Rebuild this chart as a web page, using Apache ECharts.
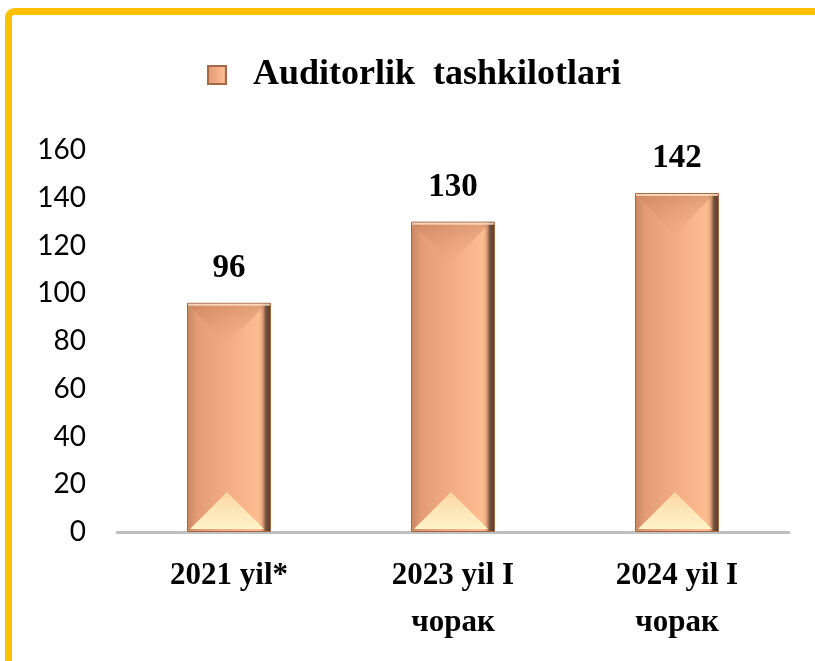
<!DOCTYPE html>
<html>
<head>
<meta charset="utf-8">
<script src="https://cdn.jsdelivr.net/npm/echarts@6/dist/echarts.min.js"></script>
<style>
  html, body { margin: 0; padding: 0; background: #fff; }
  #box1 { width: 815px; height: 661px; }
</style>
</head>
<body>
<div id="box1"></div>
<script>
// chart data
let seriesName = 'Auditorlik  tashkilotlari';
let categories = ['2021 yil*', '2023 yil I\nчорак', '2024 yil I\nчорак'];
let values = [96, 130, 142];
let yMin = 0, yMax = 160, yStep = 20;

let box1 = document.querySelector('#box1');
let myChart1 = echarts.init(box1);

let barFill = new echarts.graphic.LinearGradient(0, 0, 1, 0, [
    { offset: 0, color: '#c58660' },
    { offset: 0.12, color: '#e49c74' },
    { offset: 0.5, color: '#f3ad84' },
    { offset: 0.86, color: '#fcbd92' },
    { offset: 0.9, color: '#e0a078' },
    { offset: 0.94, color: '#7a5038' },
    { offset: 1, color: '#5a3a28' }
]);

let halfW = 42;

function bevel(params, api) {
    let top = api.coord([api.value(0), api.value(1)]);
    let base = api.coord([api.value(0), 0]);
    let cx = top[0];
    let t = top[1], b = base[1];
    return {
        type: 'group',
        children: [
            {
                type: 'polygon',
                shape: { points: [[cx - halfW + 2, t + 2], [cx + halfW - 6, t + 2], [cx - 2, t + 42]] },
                style: {
                    fill: new echarts.graphic.LinearGradient(0, 0, 0, 1, [
                        { offset: 0, color: 'rgba(190,120,85,0.45)' },
                        { offset: 1, color: 'rgba(230,160,120,0.1)' }
                    ])
                }
            },
            {
                type: 'polygon',
                shape: { points: [[cx - halfW + 3, b - 3], [cx + halfW - 7, b - 3], [cx - 2, b - 40]] },
                style: {
                    fill: new echarts.graphic.LinearGradient(0, 0, 0, 1, [
                        { offset: 0, color: '#fbd6a2' },
                        { offset: 1, color: '#fff4c8' }
                    ])
                }
            },
            {
                type: 'rect',
                shape: { x: cx - halfW + 1, y: t + 1, width: 2 * halfW - 2, height: 2 },
                style: { fill: 'rgba(255,225,200,0.8)' }
            }
        ]
    };
}

let option1 = {
    animation: false,
    backgroundColor: '#fff',
    graphic: [
        {
            type: 'rect',
            shape: { x: 8.5, y: 11.5, width: 1000, height: 1000, r: 6 },
            style: { fill: 'none', stroke: '#ffc000', lineWidth: 7 },
            z: 100
        }
    ],
    legend: {
        left: 202,
        top: 52,
        itemWidth: 18,
        itemHeight: 18,
        icon: 'rect',
        data: [seriesName],
        textStyle: {
            fontFamily: 'Liberation Serif',
            fontWeight: 'bold',
            fontSize: 36,
            color: '#000',
            padding: [0, 0, 0, 22]
        }
    },
    grid: {
        left: 117,
        right: 26,
        top: 150,
        bottom: 129
    },
    xAxis: {
        type: 'category',
        data: categories,
        axisLine: { lineStyle: { color: '#bfbfbf', width: 3 } },
        axisTick: { show: false },
        axisLabel: {
            margin: 20,
            fontFamily: 'Liberation Serif',
            fontWeight: 'bold',
            fontSize: 31,
            lineHeight: 47,
            color: '#000'
        }
    },
    yAxis: {
        type: 'value',
        min: yMin,
        max: yMax,
        interval: yStep,
        axisLine: { show: false },
        axisTick: { show: false },
        splitLine: { show: false },
        axisLabel: {
            margin: 31,
            fontFamily: 'Lato',
            fontSize: 28,
            color: '#000'
        }
    },
    series: [
        {
            name: seriesName,
            type: 'bar',
            data: values,
            barWidth: 84,
            itemStyle: {
                color: barFill,
                borderColor: '#a46a48',
                borderWidth: 1
            },
            label: {
                show: true,
                position: 'top',
                distance: 18,
                fontFamily: 'Liberation Serif',
                fontWeight: 'bold',
                fontSize: 33,
                color: '#000'
            }
        },
        {
            name: 'bevel',
            type: 'custom',
            silent: true,
            z: 3,
            renderItem: bevel,
            data: values.map(function (v, i) { return [i, v]; })
        }
    ]
};
myChart1.setOption(option1);
</script>
</body>
</html>
